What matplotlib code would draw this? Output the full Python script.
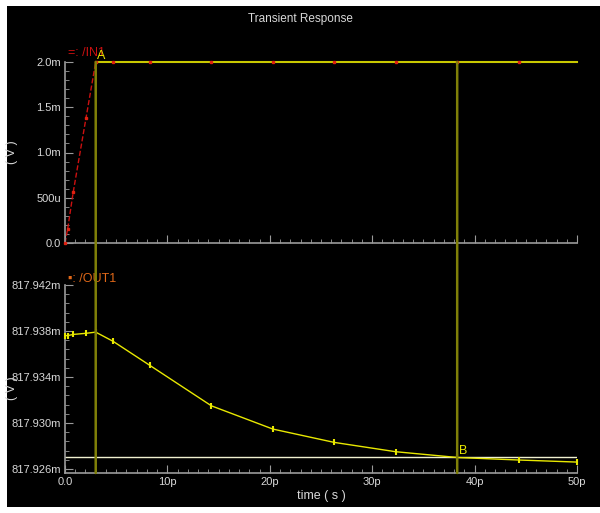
import matplotlib
matplotlib.use('Agg')
import matplotlib.pyplot as plt
from matplotlib.patches import Rectangle, ConnectionPatch

plt.rcParams['font.family'] = ['Liberation Sans', 'DejaVu Sans']

# time in ps
x_ticks = [0, 10, 20, 30, 40, 50]
x_tick_labels = ['0.0', '10p', '20p', '30p', '40p', '50p']

# /IN1 (mV)
in_t = [0, 0.26, 0.8, 2.05, 3.0, 4.7, 8.3, 14.3, 20.3, 26.3, 32.3, 38.3, 44.3, 50]
in_v = [0, 0.155, 0.56, 1.38, 2.0, 2.0, 2.0, 2.0, 2.0, 2.0, 2.0, 2.0, 2.0, 2.0]
top_yticks = [0, 0.5, 1.0, 1.5, 2.0]
top_ylabels = ['0.0', '500u', '1.0m', '1.5m', '2.0m']

# /OUT1 (mV)
out_t = [0, 0.26, 0.8, 2.05, 3.0, 4.7, 8.3, 14.3, 20.3, 26.3, 32.3, 38.3, 44.3, 50]
out_v = [817.9376, 817.9376, 817.9377, 817.9378, 817.9379, 817.9371, 817.9350,
         817.93149, 817.92947, 817.92831, 817.9275, 817.9270, 817.92678, 817.9266]
bot_yticks = [817.926, 817.930, 817.934, 817.938, 817.942]
bot_ylabels = ['817.926m', '817.930m', '817.934m', '817.938m', '817.942m']

cursor_a = 3.0
cursor_b = 38.3
cursor_b_level = 817.9270

fg = '#d8d8d8'
yellow = '#e8e800'
olive = '#808008'
red = '#cc1010'

fig = plt.figure(figsize=(6, 5.13), dpi=100)
fig.patch.set_facecolor('white')
fig.add_artist(Rectangle((7 / 600, 6 / 513), 593 / 600, 501 / 513,
                         transform=fig.transFigure, facecolor='black', edgecolor='none', zorder=-10))

ax1 = fig.add_axes([65 / 600, (513 - 243) / 513, 512 / 600, 181 / 513])
ax2 = fig.add_axes([65 / 600, (513 - 473) / 513, 512 / 600, 188 / 513])

for ax in (ax1, ax2):
    ax.set_facecolor('none')
    ax.set_xlim(0, 50)
    for s in ('top', 'right'):
        ax.spines[s].set_visible(False)
    for s in ('left', 'bottom'):
        ax.spines[s].set_color('#9a9a9a')
        ax.spines[s].set_linewidth(1.2)
    ax.set_xticks(x_ticks)
    ax.set_xticks(range(0, 51), minor=True)
    ax.tick_params(axis='both', which='major', direction='in', length=6, color='#9a9a9a',
                   labelcolor=fg, labelsize=8, pad=3)
    ax.tick_params(axis='both', which='minor', direction='in', length=3, color='#9a9a9a')

# top panel
ax1.set_ylim(0, 2.0)
ax1.set_yticks(top_yticks)
ax1.set_yticklabels(top_ylabels)
ax1.set_yticks([i * 0.1 for i in range(21)], minor=True)
ax1.tick_params(axis='x', labelbottom=False)
ax1.plot(in_t, in_v, color=red, ls='--', lw=1, clip_on=False, zorder=2)
ax1.plot([cursor_a, 50], [in_v[-1], in_v[-1]], color='#c8c800', lw=1.5, clip_on=False, zorder=3)
ax1.plot(in_t[:-1], in_v[:-1], ls='none', color='#e02010', marker='s', ms=2, clip_on=False, zorder=4)
ax1.text(0.3, 2.03, '=: /IN1', color=red, fontsize=9, va='bottom')
ax1.text(cursor_a + 0.1, 2.0, 'A', color=yellow, fontsize=9, va='bottom')
ax1.set_ylabel('( V )', color=fg, fontsize=9)
ax1.yaxis.set_label_coords(-0.092, 0.5)

# bottom panel
ax2.set_ylim(817.92565, 817.942)
ax2.set_yticks(bot_yticks)
ax2.set_yticklabels(bot_ylabels)
ax2.set_yticks([817.926 + i * 0.0008 for i in range(21)], minor=True)
ax2.set_xticklabels(x_tick_labels)
ax2.plot(out_t, out_v, color=yellow, lw=1, marker='|', ms=5, mew=1.5, clip_on=False, zorder=3)
ax2.axhline(cursor_b_level, color='#f0f0d0', lw=1, zorder=2)
ax2.text(0.3, 817.9420, '\u25aa: /OUT1', color='#e06818', fontsize=9, va='bottom')
ax2.text(cursor_b + 0.2, cursor_b_level, 'B', color=yellow, fontsize=9, va='bottom')
ax2.set_ylabel('( V )', color=fg, fontsize=9)
ax2.yaxis.set_label_coords(-0.092, 0.45)
ax2.set_xlabel('time ( s )', color=fg, fontsize=9, labelpad=2)

# cursors spanning both panels
for t in (cursor_a, cursor_b):
    con = ConnectionPatch(xyA=(t, 2.0), coordsA=ax1.transData,
                          xyB=(t, ax2.get_ylim()[0]), coordsB=ax2.transData,
                          color=olive, lw=1.8, zorder=1)
    fig.add_artist(con)

fig.text(0.5, 1 - 19 / 513, 'Transient Response', color=fg, fontsize=8.5, ha='center', va='center')

fig.savefig('out.png', dpi=100, facecolor=fig.get_facecolor())
